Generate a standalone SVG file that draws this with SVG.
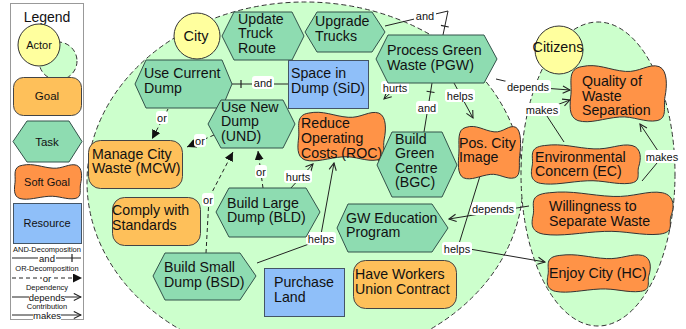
<svg xmlns="http://www.w3.org/2000/svg" xmlns:xlink="http://www.w3.org/1999/xlink" width="686" height="329" viewBox="0 0 686 329">
  <style>
    text { font-family: "Liberation Sans", Arial, sans-serif; fill: #111; }
    .nt { font-size: 14.2px; }
    .lt { font-size: 11px; text-anchor: middle; }
    .area { fill: #ccffcc; stroke: #333; stroke-width: 1; stroke-dasharray: 5 3; }
    .actor { fill: #ffff9e; stroke: #333; stroke-width: 1; }
    .task { fill: #8edcb1; stroke: #33524a; stroke-width: 1; }
    .goal { fill: #fec05a; stroke: #444; stroke-width: 1; }
    .soft { fill: #ff9347; stroke: #333; stroke-width: 1; }
    .res { fill: #8fbff9; stroke: #445566; stroke-width: 1; }
    .ln { fill: none; stroke: #222; stroke-width: 1; }
    .dash { stroke-dasharray: 4 3; }
    .lbl { fill: #fff; }
    .and { marker-end: url(#bar); }
    .or { marker-end: url(#solid); }
    .arr { marker-end: url(#open); }
  </style>
  <defs>
    <marker id="open" viewBox="0 0 10 10" refX="9" refY="5" markerWidth="9" markerHeight="9" markerUnits="userSpaceOnUse" orient="auto">
      <path d="M1,1 L9,5 L1,9" fill="none" stroke="#222" stroke-width="1.2"/>
    </marker>
    <marker id="solid" viewBox="0 0 10 10" refX="10" refY="5" markerWidth="9" markerHeight="9" markerUnits="userSpaceOnUse" orient="auto">
      <path d="M0,0 L10,5 L0,10 Z" fill="#111"/>
    </marker>
    <marker id="bar" viewBox="0 0 10 10" refX="10" refY="5" markerWidth="10" markerHeight="10" markerUnits="userSpaceOnUse" orient="auto">
      <path d="M1,1 L1,9" fill="none" stroke="#222" stroke-width="1.2"/>
    </marker>
    <!-- soft goal outline, stretched to each node's box -->
    <symbol id="sg" viewBox="0 0 100 50" preserveAspectRatio="none" overflow="visible">
      <path d="M14,3 C30,0 42,6 58,7 C72,8 82,0 92,3 C101,6 100,20 98,28 C96,36 101,46 90,48 C78,50 66,44 52,45 C36,46 22,51 10,48 C0,45 2,34 3,26 C4,16 -1,5 14,3 Z" vector-effect="non-scaling-stroke"/>
    </symbol>
  </defs>

  <!-- legend -->
  <g id="legend">
    <rect x="10.5" y="3.5" width="73" height="316" fill="#fff" stroke="#999"/>
    <text x="47" y="22" font-size="14" text-anchor="middle">Legend</text>
    <ellipse class="area" cx="58" cy="61" rx="19" ry="19"/>
    <circle class="actor" cx="39" cy="45" r="21"/>
    <text x="39" y="49" font-size="11" text-anchor="middle">Actor</text>
    <rect class="goal" x="13.5" y="77.5" width="68" height="38" rx="10"/>
    <text x="47" y="100" font-size="11.5" text-anchor="middle">Goal</text>
    <polygon class="task" points="13,141.5 27,121 69,121 82,141.5 69,162 27,162"/>
    <text x="47" y="146" font-size="11.5" text-anchor="middle">Task</text>
    <use class="soft" href="#sg" x="13" y="163" width="69" height="37"/>
    <text x="47" y="186" font-size="11" text-anchor="middle">Soft Goal</text>
    <rect class="res" x="13.5" y="203.5" width="68" height="40"/>
    <text x="47" y="227" font-size="11" text-anchor="middle">Resource</text>

    <text x="47" y="251.5" font-size="7.5" text-anchor="middle" fill="#333">AND-Decomposition</text>
    <path class="ln and" d="M12,258 L81,258"/>
    <rect x="38" y="253" width="18" height="10" fill="#fff"/>
    <text x="47" y="261.5" font-size="9.5" text-anchor="middle">and</text>

    <text x="47" y="271" font-size="7.5" text-anchor="middle" fill="#333">OR-Decomposition</text>
    <path class="ln dash or" d="M12,278 L82,278"/>
    <rect x="42" y="273" width="10" height="10" fill="#fff"/>
    <text x="47" y="281.5" font-size="9.5" text-anchor="middle">or</text>

    <text x="47" y="290" font-size="7.5" text-anchor="middle" fill="#333">Dependency</text>
    <path class="ln arr" d="M12,297 L81,297"/>
    <rect x="29" y="292" width="36" height="10" fill="#fff"/>
    <text x="47" y="300.5" font-size="9.5" text-anchor="middle">depends</text>

    <text x="47" y="309" font-size="7.5" text-anchor="middle" fill="#333">Contribution</text>
    <path class="ln arr" d="M12,315 L81,315"/>
    <rect x="33" y="310" width="28" height="10" fill="#fff"/>
    <text x="47" y="318.5" font-size="9.5" text-anchor="middle">makes</text>
  </g>

  <!-- actor boundaries -->
  <g id="city-boundary">
    <ellipse class="area" cx="305" cy="182" rx="218" ry="180"/>
  </g>
  <g id="citizens-boundary">
    <ellipse class="area" cx="598" cy="174" rx="77" ry="152"/>
  </g>

  <!-- connectors -->
  <g id="connectors">
    <g>
      <path class="ln and" d="M288,84 L232,84"/>
      <rect class="lbl" x="252" y="76" width="22" height="13" rx="3"/>
      <text class="lt" x="263" y="86.5">and</text>
    </g>
    <g>
      <path class="ln and" d="M385,26 L448,11 L443,35"/>
      <rect class="lbl" x="414" y="9" width="22" height="13" rx="3"/>
      <text class="lt" x="425" y="19.5">and</text>
    </g>
    <g>
      <path class="ln and" d="M424,132 L432,83"/>
      <rect class="lbl" x="416" y="101" width="22" height="13" rx="3"/>
      <text class="lt" x="427" y="111.5">and</text>
    </g>
    <g>
      <path class="ln arr" d="M401,83 L384,99"/>
      <rect class="lbl" x="381" y="81" width="28" height="13" rx="3"/>
      <text class="lt" x="395" y="91.5">hurts</text>
    </g>
    <g>
      <path class="ln arr" d="M454,83 L473,118"/>
      <rect class="lbl" x="445" y="89" width="30" height="13" rx="3"/>
      <text class="lt" x="460" y="99.5">helps</text>
    </g>
    <g>
      <path class="ln arr" d="M496,79 Q530,88 570,90"/>
      <rect class="lbl" x="505" y="80" width="46" height="13" rx="3"/>
      <text class="lt" x="528" y="90.5">depends</text>
    </g>
    <g>
      <path class="ln arr" d="M564,142 L543,110 L570,100"/>
      <rect class="lbl" x="524" y="103" width="36" height="13" rx="3"/>
      <text class="lt" x="542" y="113.5">makes</text>
    </g>
    <g>
      <path class="ln arr" d="M642,181 L662,157 L640,124"/>
      <rect class="lbl" x="645" y="150" width="35" height="13" rx="3"/>
      <text class="lt" x="662" y="160.5">makes</text>
    </g>
    <g>
      <path class="ln arr" d="M529,206 L449,219"/>
      <rect class="lbl" x="470" y="202" width="46" height="13" rx="3"/>
      <text class="lt" x="493" y="212.5">depends</text>
    </g>
    <g>
      <path class="ln arr" d="M480,176 L458,247 L545,262"/>
      <rect class="lbl" x="442" y="242" width="30" height="13" rx="3"/>
      <text class="lt" x="457" y="252.5">helps</text>
    </g>
    <g>
      <path class="ln arr" d="M257,263 L320,240 L334,163"/>
      <rect class="lbl" x="306" y="232" width="30" height="13" rx="3"/>
      <text class="lt" x="321" y="242.5">helps</text>
    </g>
    <g>
      <path class="ln arr" d="M290,189 L313,164"/>
      <rect class="lbl" x="284" y="170" width="28" height="13" rx="3"/>
      <text class="lt" x="298" y="180.5">hurts</text>
    </g>
    <g>
      <path class="ln dash or" d="M263,188 L258,151"/>
      <rect class="lbl" x="255" y="165" width="12" height="13" rx="3"/>
      <text class="lt" x="261" y="175.5">or</text>
    </g>
    <g>
      <path class="ln dash or" d="M206,253 L209,198 L233,152"/>
      <rect class="lbl" x="202" y="193" width="12" height="13" rx="3"/>
      <text class="lt" x="208" y="203.5">or</text>
    </g>
    <g>
      <path class="ln dash or" d="M214,135 L187,147"/>
      <rect class="lbl" x="194" y="134" width="12" height="13" rx="3"/>
      <text class="lt" x="200" y="144.5">or</text>
    </g>
    <g>
      <path class="ln dash or" d="M168,109 L152,139"/>
      <rect class="lbl" x="156" y="111" width="12" height="13" rx="3"/>
      <text class="lt" x="162" y="121.5">or</text>
    </g>
  </g>

  <!-- City actor -->
  <g id="city">
    <circle class="actor" cx="197" cy="36" r="23"/>
    <text x="196" y="41" font-size="14.5" text-anchor="middle">City</text>
  </g>
  <g id="update-truck-route">
    <polygon class="task" points="222,36 234,12 292,12 304,36 292,60 234,60"/>
    <text class="nt" x="238" y="23.5">Update</text>
    <text class="nt" x="238" y="38">Truck</text>
    <text class="nt" x="238" y="52.5">Route</text>
  </g>
  <g id="upgrade-trucks">
    <polygon class="task" points="305,32 317,12 372,12 385,32 372,52 317,52"/>
    <text class="nt" x="315" y="26">Upgrade</text>
    <text class="nt" x="315" y="40.5">Trucks</text>
  </g>
  <g id="pgw">
    <polygon class="task" points="376,59 388,35 484,35 497,59 484,83 388,83"/>
    <text class="nt" x="387" y="55">Process Green</text>
    <text class="nt" x="387" y="69.5">Waste (PGW)</text>
  </g>
  <g id="use-current-dump">
    <polygon class="task" points="135,84 146,60 222,60 232,84 222,108 146,108"/>
    <text class="nt" x="144" y="78">Use Current</text>
    <text class="nt" x="144" y="93">Dump</text>
  </g>
  <g id="sid">
    <rect class="res" x="288.5" y="60.5" width="80" height="48"/>
    <text class="nt" x="291" y="78">Space in</text>
    <text class="nt" x="291" y="93">Dump (SiD)</text>
  </g>
  <g id="und">
    <polygon class="task" points="208,124 221,100 283,100 295,124 283,148 221,148"/>
    <text class="nt" x="221" y="111.5">Use New</text>
    <text class="nt" x="221" y="126">Dump</text>
    <text class="nt" x="221" y="140.5">(UND)</text>
  </g>
  <g id="roc">
    <use class="soft" href="#sg" x="296" y="110" width="90" height="52"/>
    <text class="nt" x="301" y="128">Reduce</text>
    <text class="nt" x="301" y="143">Operating</text>
    <text class="nt" x="301" y="157.5">Costs (ROC)</text>
  </g>
  <g id="bgc">
    <polygon class="task" points="377,165 392,132 442,132 457,165 442,197 392,197"/>
    <text class="nt" x="395" y="143.5">Build</text>
    <text class="nt" x="395" y="158">Green</text>
    <text class="nt" x="395" y="172.5">Centre</text>
    <text class="nt" x="395" y="187">(BGC)</text>
  </g>
  <g id="pos-city-image">
    <use class="soft" href="#sg" x="457" y="124" width="64" height="56"/>
    <text class="nt" x="459" y="147.5">Pos. City</text>
    <text class="nt" x="459" y="162">Image</text>
  </g>
  <g id="mcw">
    <rect class="goal" x="88.5" y="140.5" width="94" height="48" rx="12"/>
    <text class="nt" x="92" y="158.5">Manage City</text>
    <text class="nt" x="92" y="173">Waste (MCW)</text>
  </g>
  <g id="comply">
    <rect class="goal" x="112.5" y="197.5" width="88" height="48" rx="12"/>
    <text class="nt" x="112" y="215">Comply with</text>
    <text class="nt" x="112" y="229.5">Standards</text>
  </g>
  <g id="bld">
    <polygon class="task" points="216,212 229,188 306,188 320,212 306,237 229,237"/>
    <text class="nt" x="227" y="207.5">Build Large</text>
    <text class="nt" x="227" y="222">Dump (BLD)</text>
  </g>
  <g id="bsd">
    <polygon class="task" points="153,276 165,253 240,253 256,276 240,300 165,300"/>
    <text class="nt" x="164" y="272">Build Small</text>
    <text class="nt" x="164" y="286.5">Dump (BSD)</text>
  </g>
  <g id="purchase-land">
    <rect class="res" x="264.5" y="268.5" width="80" height="48"/>
    <text class="nt" x="274" y="287">Purchase</text>
    <text class="nt" x="274" y="301.5">Land</text>
  </g>
  <g id="gw-education">
    <polygon class="task" points="337,228 348,204 432,204 448,228 432,252 348,252"/>
    <text class="nt" x="346" y="222.5">GW Education</text>
    <text class="nt" x="346" y="237">Program</text>
  </g>
  <g id="workers-union">
    <rect class="goal" x="353.5" y="260.5" width="103" height="48" rx="12"/>
    <text class="nt" x="355" y="279">Have Workers</text>
    <text class="nt" x="355" y="293.5">Union Contract</text>
  </g>

  <!-- Citizens actor -->
  <g id="citizens">
    <circle class="actor" cx="559" cy="50" r="24"/>
    <text x="558" y="52" font-size="14.3" text-anchor="middle">Citizens</text>
  </g>
  <g id="qws">
    <use class="soft" href="#sg" x="568" y="63" width="99" height="60"/>
    <text class="nt" x="582" y="86">Quality of</text>
    <text class="nt" x="582" y="100.5">Waste</text>
    <text class="nt" x="582" y="115">Separation</text>
  </g>
  <g id="ec">
    <use class="soft" href="#sg" x="529" y="143" width="112" height="42"/>
    <text class="nt" x="535" y="161.5">Environmental</text>
    <text class="nt" x="535" y="176">Concern (EC)</text>
  </g>
  <g id="wsw">
    <use class="soft" href="#sg" x="529" y="190" width="145" height="46"/>
    <text class="nt" x="549" y="211">Willingness to</text>
    <text class="nt" x="549" y="225.5">Separate Waste</text>
  </g>
  <g id="hc">
    <use class="soft" href="#sg" x="545" y="253" width="106" height="40"/>
    <text class="nt" x="549" y="278">Enjoy City (HC)</text>
  </g>
</svg>
